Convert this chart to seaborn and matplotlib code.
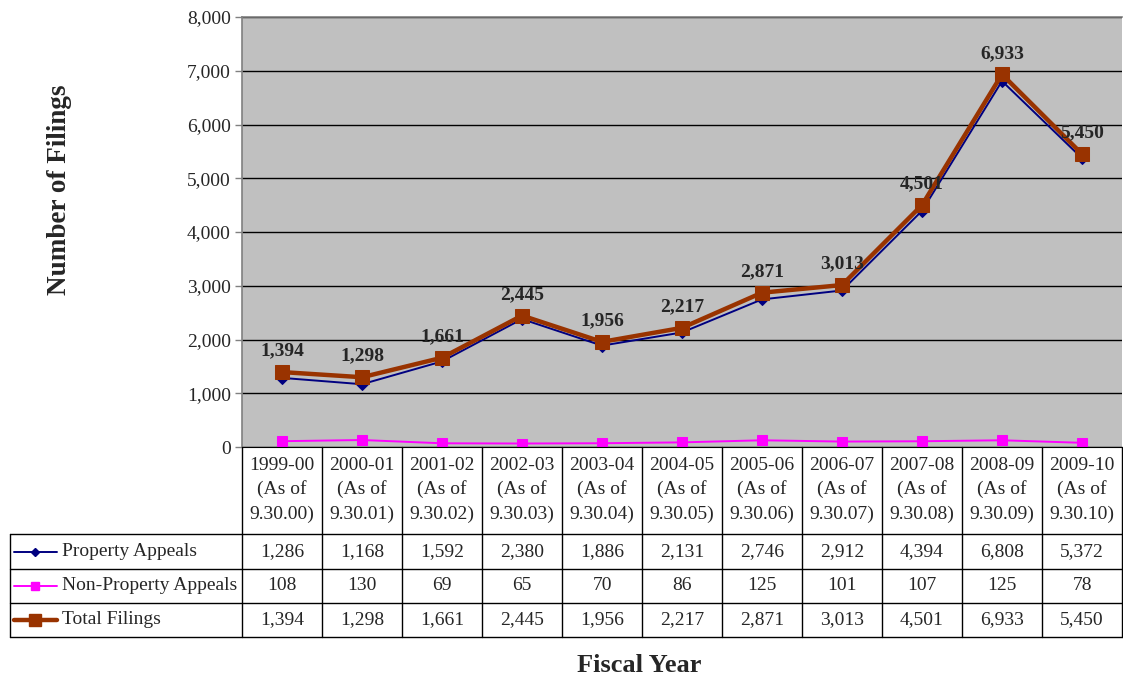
import pandas as pd
import matplotlib.pyplot as plt
import seaborn as sns
from matplotlib.lines import Line2D

years = ["1999-00", "2000-01", "2001-02", "2002-03", "2003-04", "2004-05",
         "2005-06", "2006-07", "2007-08", "2008-09", "2009-10"]
as_of = ["9.30.00", "9.30.01", "9.30.02", "9.30.03", "9.30.04", "9.30.05",
         "9.30.06", "9.30.07", "9.30.08", "9.30.09", "9.30.10"]
property_appeals = [1286, 1168, 1592, 2380, 1886, 2131, 2746, 2912, 4394, 6808, 5372]
non_property = [108, 130, 69, 65, 70, 86, 125, 101, 107, 125, 78]
total_filings = [1394, 1298, 1661, 2445, 1956, 2217, 2871, 3013, 4501, 6933, 5450]

series = [
    ("Property Appeals", property_appeals, "#000080", "D", 1.4, 6),
    ("Non-Property Appeals", non_property, "#FF00FF", "s", 1.4, 7.5),
    ("Total Filings", total_filings, "#993300", "s", 3.2, 10),
]

sns.set_style("white")
plt.rcParams['font.family'] = ['Liberation Serif', 'DejaVu Serif']
FS = 14

W, H = 1123, 677
fig = plt.figure(figsize=(W / 100, H / 100), dpi=100)

def fx(px):
    return px / W

def fy(py):
    return 1 - py / H

left, right, top, bottom = 242, 1122, 17, 447
ax = fig.add_axes([fx(left), fy(bottom), fx(right - left), (bottom - top) / H])
ax.set_facecolor("#C0C0C0")

x = list(range(len(years)))
for name, vals, color, marker, lw, ms in series:
    df = pd.DataFrame({"x": x, "y": vals})
    sns.lineplot(data=df, x="x", y="y", ax=ax, color=color, marker=marker,
                 linewidth=lw, markersize=ms, markeredgecolor=color,
                 zorder=3 if name == "Total Filings" else 2)

for i, v in enumerate(total_filings):
    ax.annotate(f"{v:,}", (i, v), xytext=(0, 9), textcoords="offset points",
                ha="center", va="bottom", fontsize=FS, fontweight="bold")

ax.set_xlim(-0.5, len(years) - 0.5)
ax.set_ylim(0, 8000)
ax.set_yticks(range(0, 8001, 1000))
ax.set_yticklabels([f"{t:,}" for t in range(0, 8001, 1000)], fontsize=FS)
ax.set_xticks([])
ax.set_xlabel("")
ax.set_ylabel("")
ax.yaxis.grid(True, color="black", linewidth=1)
ax.set_axisbelow(True)
ax.tick_params(axis="y", direction="out", length=5, width=1, color="#808080", pad=3, left=True)
for s in ["left", "top"]:
    ax.spines[s].set_color("#808080")
    ax.spines[s].set_linewidth(1.2)
ax.spines["right"].set_visible(False)
ax.spines["bottom"].set_color("black")

fig.text(fx(60), fy(190), "Number of Filings", rotation=90, ha="center", va="center",
         fontsize=19.5, fontweight="bold")
fig.text(fx(639), fy(665), "Fiscal Year", ha="center", va="center",
         fontsize=19, fontweight="bold")

# data table under the chart
col_w = (right - left) / len(years)
row_edges = [534, 569, 603, 637]
tab_left = 10

def hline(x0, x1, y):
    fig.add_artist(Line2D([fx(x0), fx(x1)], [fy(y), fy(y)], color="black", linewidth=1))

def vline(xp, y0, y1):
    fig.add_artist(Line2D([fx(xp), fx(xp)], [fy(y0), fy(y1)], color="black", linewidth=1))

for yr in row_edges:
    hline(tab_left, right, yr)
vline(tab_left, row_edges[0], row_edges[-1])
for k in range(len(years) + 1):
    vline(left + k * col_w, bottom, row_edges[-1])

for i, (yr, d) in enumerate(zip(years, as_of)):
    cx = left + (i + 0.5) * col_w
    for j, line in enumerate([yr, "(As of", d + ")"]):
        fig.text(fx(cx), fy(465 + j * 24.5), line, ha="center", va="center", fontsize=FS)

for r, (name, vals, color, marker, lw, ms) in enumerate(series):
    cy = (row_edges[r] + row_edges[r + 1]) / 2
    fig.add_artist(Line2D([fx(14), fx(57)], [fy(cy), fy(cy)], color=color, linewidth=lw))
    fig.add_artist(Line2D([fx(35)], [fy(cy)], color=color, marker=marker,
                          markersize=ms - 1.5, markeredgecolor=color))
    fig.text(fx(62), fy(cy), name, ha="left", va="center", fontsize=FS)
    for i, v in enumerate(vals):
        cx = left + (i + 0.5) * col_w
        fig.text(fx(cx), fy(cy), f"{v:,}", ha="center", va="center", fontsize=FS)

fig.savefig("out.png", dpi=100)
